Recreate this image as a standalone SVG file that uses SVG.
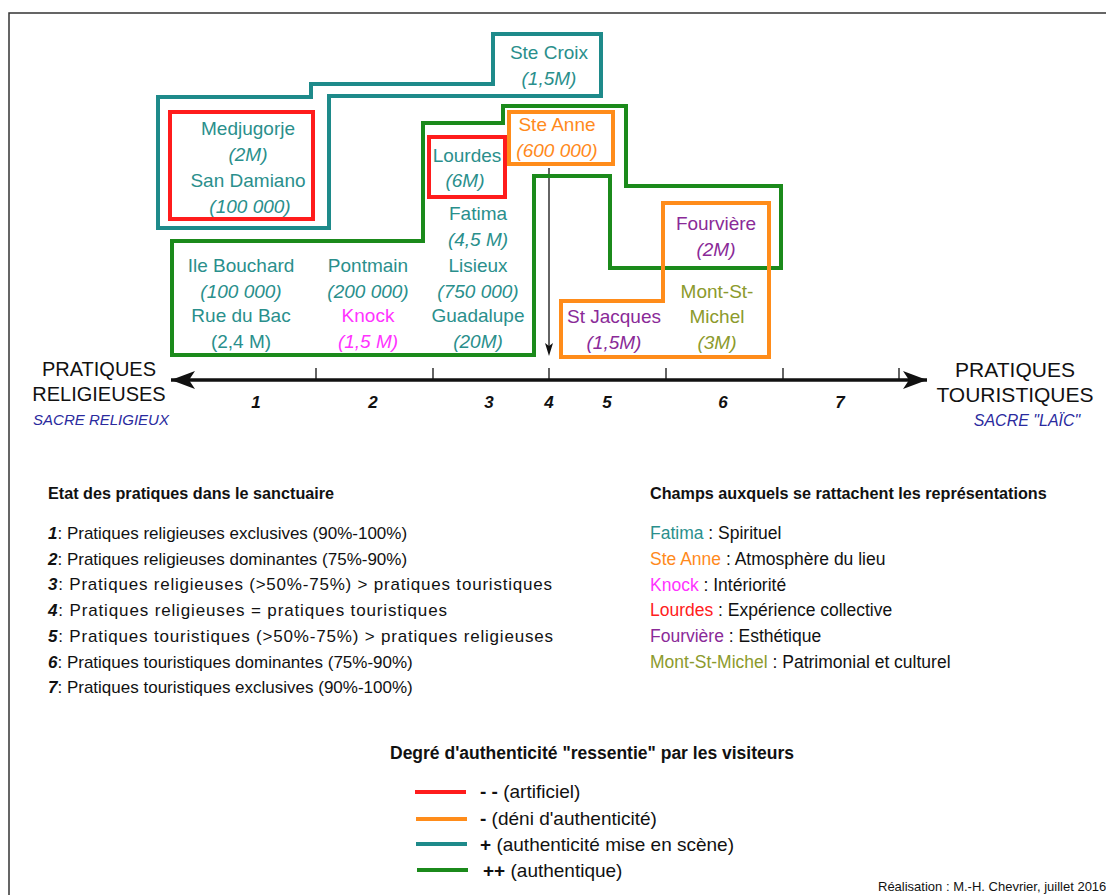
<svg xmlns="http://www.w3.org/2000/svg" width="1106" height="895" viewBox="0 0 1106 895">
<style>
text{font-family:"Liberation Sans",Arial,sans-serif;}
.n{font-size:19px;text-anchor:middle;}
.i{font-style:italic;}
.teal{fill:#2a8f8c;}
.org{fill:#ff8a1c;}
.mag{fill:#ff33ff;}
.pur{fill:#8a2a98;}
.oli{fill:#8c9a2c;}
.red{fill:#ff2020;}
.box{fill:none;stroke-width:4;stroke-linejoin:miter;}
.sTeal{stroke:#1e8a8a;}
.sRed{stroke:#ff1c1c;}
.sOrg{stroke:#ff8c1a;}
.sGrn{stroke:#1b8a1b;}
.axl{font-size:20px;text-anchor:middle;fill:#111;}
.sub{font-size:15px;font-style:italic;text-anchor:middle;fill:#2a2a9e;}
.num{font-size:17px;font-weight:bold;font-style:italic;text-anchor:middle;fill:#111;}
.hd{font-size:16.2px;font-weight:bold;fill:#111;}
.li{font-size:17.5px;fill:#111;}
.le{font-size:17px;fill:#111;}
.lg{font-size:19px;fill:#111;}
.bi{font-weight:bold;font-style:italic;}
</style>
<defs>
<marker id="axhead" markerUnits="userSpaceOnUse" markerWidth="30" markerHeight="22" refX="24" refY="10" orient="auto-start-reverse" viewBox="0 0 30 22">
<path d="M24,10 L0,1 L6,10 L0,19 Z" fill="#111"/>
</marker>
</defs>
<rect x="9" y="13" width="1110" height="900" fill="#fff" stroke="#333" stroke-width="1.5"/>

<g id="connectors">
<line x1="171" y1="380" x2="927" y2="380" stroke="#111" stroke-width="3.5" marker-start="url(#axhead)" marker-end="url(#axhead)"/>
<g stroke="#111" stroke-width="1.3">
<line x1="316" y1="368" x2="316" y2="380"/>
<line x1="433" y1="368" x2="433" y2="380"/>
<line x1="549" y1="368" x2="549" y2="380"/>
<line x1="666" y1="368" x2="666" y2="380"/>
<line x1="783" y1="368" x2="783" y2="380"/>
<line x1="899" y1="368" x2="899" y2="380"/>
</g>
<line x1="549" y1="168" x2="549" y2="346" stroke="#111" stroke-width="1.3"/>
<path d="M545,343 L549,356 L553,343 L549,346 Z" fill="#111"/>
</g>

<g id="teal-group">
<path class="box sTeal" d="M158,228 V97 H311 V84 H493 V34 H601 V96 H329 V228 Z"/>
<text class="n teal" x="549" y="59">Ste Croix</text>
<text class="n teal i" x="549" y="85">(1,5M)</text>
</g>

<g id="medjugorje">
<rect class="box sRed" x="170" y="112" width="143" height="107"/>
<text class="n teal" x="248" y="135">Medjugorje</text>
<text class="n teal i" x="248" y="161">(2M)</text>
<text class="n teal" x="248" y="187">San Damiano</text>
<text class="n teal i" x="250" y="213">(100 000)</text>
</g>

<g id="green-group">
<path class="box sGrn" d="M172,241 H423 V123 H503 V106 H626 V186 H781 V268 H610 V176 H534 V355 H172 Z"/>
<text class="n teal" x="241" y="272">Ile Bouchard</text>
<text class="n teal i" x="241" y="298">(100 000)</text>
<text class="n teal" x="241" y="322">Rue du Bac</text>
<text class="n teal" x="241" y="348">(2,4 M)</text>
<text class="n teal" x="368" y="272">Pontmain</text>
<text class="n teal i" x="368" y="298">(200 000)</text>
<text class="n mag" x="368" y="322">Knock</text>
<text class="n mag i" x="368" y="348">(1,5 M)</text>
<text class="n teal" x="478" y="220">Fatima</text>
<text class="n teal i" x="478" y="246">(4,5 M)</text>
<text class="n teal" x="478" y="272">Lisieux</text>
<text class="n teal i" x="478" y="298">(750 000)</text>
<text class="n teal" x="478" y="322">Guadalupe</text>
<text class="n teal i" x="478" y="348">(20M)</text>
</g>

<g id="lourdes">
<rect class="box sRed" x="429" y="137" width="76" height="60"/>
<text class="n teal" x="467" y="162">Lourdes</text>
<text class="n teal i" x="465" y="187">(6M)</text>
</g>

<g id="ste-anne">
<rect class="box sOrg" x="509" y="112" width="104" height="52"/>
<text class="n org" x="557" y="131">Ste Anne</text>
<text class="n org i" x="557" y="157">(600 000)</text>
</g>

<g id="orange-group">
<path class="box sOrg" d="M663,203 H769 V357 H561 V301 H663 Z"/>
<text class="n pur" x="716" y="230">Fourvière</text>
<text class="n pur i" x="716" y="256">(2M)</text>
<text class="n oli" x="717" y="298">Mont-St-</text>
<text class="n oli" x="717" y="323">Michel</text>
<text class="n oli i" x="717" y="349">(3M)</text>
<text class="n pur" x="614" y="323">St Jacques</text>
<text class="n pur i" x="614" y="349">(1,5M)</text>
</g>

<g id="axis-labels">
<text class="axl" x="99" y="376">PRATIQUES</text>
<text class="axl" x="99" y="401">RELIGIEUSES</text>
<text class="sub" x="101" y="425">SACRE RELIGIEUX</text>
<text class="axl" x="1015" y="377" style="font-size:21px">PRATIQUES</text>
<text class="axl" x="1015" y="402" style="font-size:21px">TOURISTIQUES</text>
<text class="sub" x="1027" y="426" style="font-size:16px">SACRE "LAÏC"</text>
<text class="num" x="256" y="408">1</text>
<text class="num" x="373" y="408">2</text>
<text class="num" x="489" y="408">3</text>
<text class="num" x="549" y="408">4</text>
<text class="num" x="607" y="408">5</text>
<text class="num" x="723" y="408">6</text>
<text class="num" x="840" y="408">7</text>
</g>

<g id="legend-etat">
<text class="hd" x="48" y="499">Etat des pratiques dans le sanctuaire</text>
<text class="le" x="48" y="539"><tspan class="bi">1</tspan>: Pratiques religieuses exclusives (90%-100%)</text>
<text class="le" x="48" y="565"><tspan class="bi">2</tspan>: Pratiques religieuses dominantes (75%-90%)</text>
<text class="le" x="48" y="590" textLength="504"><tspan class="bi">3</tspan>: Pratiques religieuses (&gt;50%-75%) &gt; pratiques touristiques</text>
<text class="le" x="48" y="616" textLength="399"><tspan class="bi">4</tspan>: Pratiques religieuses = pratiques touristiques</text>
<text class="le" x="48" y="642" textLength="505"><tspan class="bi">5</tspan>: Pratiques touristiques (&gt;50%-75%) &gt; pratiques religieuses</text>
<text class="le" x="48" y="668"><tspan class="bi">6</tspan>: Pratiques touristiques dominantes (75%-90%)</text>
<text class="le" x="48" y="693"><tspan class="bi">7</tspan>: Pratiques touristiques exclusives (90%-100%)</text>
</g>

<g id="legend-champs">
<text class="hd" x="650" y="499">Champs auxquels se rattachent les représentations</text>
<text class="li" x="650" y="539"><tspan class="teal">Fatima</tspan> : Spirituel</text>
<text class="li" x="650" y="565"><tspan class="org">Ste Anne</tspan> : Atmosphère du lieu</text>
<text class="li" x="650" y="591"><tspan class="mag">Knock</tspan> : Intériorité</text>
<text class="li" x="650" y="616"><tspan class="red">Lourdes</tspan> : Expérience collective</text>
<text class="li" x="650" y="642"><tspan class="pur">Fourvière</tspan> : Esthétique</text>
<text class="li" x="650" y="668"><tspan class="oli">Mont-St-Michel</tspan> : Patrimonial et culturel</text>
</g>

<g id="legend-authenticite">
<text class="hd" x="390" y="759" style="font-size:17.5px">Degré d'authenticité "ressentie" par les visiteurs</text>
<line x1="415" y1="792" x2="466" y2="792" stroke="#ff1c1c" stroke-width="4"/>
<line x1="416" y1="819" x2="467" y2="819" stroke="#ff8c1a" stroke-width="4"/>
<line x1="416" y1="844" x2="467" y2="844" stroke="#1e8a8a" stroke-width="4"/>
<line x1="417" y1="870" x2="468" y2="870" stroke="#1b8a1b" stroke-width="4"/>
<text class="lg" x="480" y="798"><tspan font-weight="bold">- -</tspan> (artificiel)</text>
<text class="lg" x="480" y="825"><tspan font-weight="bold">-</tspan> (déni d'authenticité)</text>
<text class="lg" x="480" y="851"><tspan font-weight="bold">+</tspan> (authenticité mise en scène)</text>
<text class="lg" x="483" y="877"><tspan font-weight="bold">++</tspan> (authentique)</text>
</g>

<text x="878" y="891" style="font-size:13px;fill:#111">Réalisation : M.-H. Chevrier, juillet 2016</text>
</svg>
